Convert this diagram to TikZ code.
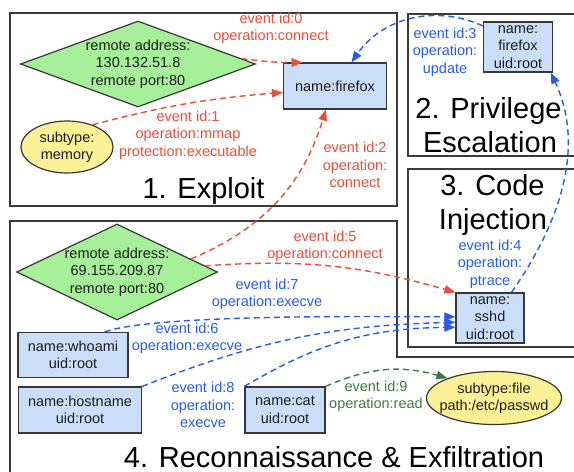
\documentclass[tikz,border=0pt]{standalone}
\usepackage{fontspec}
\setmainfont{Liberation Sans}
\usetikzlibrary{shapes.geometric,arrows.meta}
\definecolor{ink}{RGB}{30,30,30}
\definecolor{frame}{RGB}{60,60,60}
\definecolor{edge}{RGB}{55,55,55}
\definecolor{procfill}{RGB}{202,222,250}
\definecolor{sockfill}{RGB}{165,240,152}
\definecolor{filefill}{RGB}{252,240,150}
\definecolor{evred}{RGB}{232,78,56}
\definecolor{evblue}{RGB}{40,92,232}
\definecolor{evgreen}{RGB}{62,125,62}
\begin{document}
\begin{tikzpicture}[x=1pt,y=-1pt,
  every node/.style={font=\fontsize{14.5}{17.5}\selectfont, text=ink},
  proc/.style={rectangle, draw=edge, fill=procfill, line width=1.2pt, inner sep=0pt, align=center},
  sock/.style={diamond, draw=edge, fill=sockfill, line width=1.2pt, inner sep=0pt},
  fileobj/.style={ellipse, draw=edge, fill=filefill, line width=1.2pt, inner sep=0pt},
  inner/.style={align=center, inner sep=0pt},
  lbl/.style={align=center, inner sep=0pt},
  flow/.style={dash pattern=on 6pt off 4pt, line width=1.4pt, -{Triangle[length=11pt,width=8.5pt]}},
  redflow/.style={flow, draw=evred},
  blueflow/.style={flow, draw=evblue},
  greenflow/.style={flow, draw=evgreen},
  stagebox/.style={draw=frame, line width=1.4pt, fill=white},
  stagetitle/.style={font=\fontsize{29}{35}\selectfont, anchor=base, text=black, inner sep=0pt}
]
\useasboundingbox (0,0) rectangle (574,472);
\clip (0,0) rectangle (574,472);

% stage frames
\draw[stagebox] (10,13) rectangle (397,206);
\draw[stagebox] (408,14) rectangle (590,156);
\draw[stagebox] (10,221) -- (397,221) -- (397,357) -- (590,357) -- (590,490) -- (10,490) -- cycle;
\draw[stagebox] (408,169) rectangle (590,347);

% stage titles
\node[stagetitle] (t1) at (203.5,198) {1. Exploit};
\node[stagetitle] (t2a) at (488.5,118) {2. Privilege};
\node[stagetitle] (t2b) at (490,152) {Escalation};
\node[stagetitle] (t3a) at (492.5,195) {3. Code};
\node[stagetitle] (t3b) at (493,229) {Injection};
\node[stagetitle] (t4) at (334,467) {4. Reconnaissance \& Exfiltration};

% entities
\node[sock, minimum width=235pt, minimum height=86pt,
      label={[inner]center:remote address:\\130.132.51.8\\remote port:80}] (d1) at (138,64) {};
\node[fileobj, minimum width=92pt, minimum height=52pt,
      label={[inner]center:subtype:\\memory}] (mem) at (67,147) {};
\node[proc, minimum width=103pt, minimum height=46pt] (ff) at (335,86) {name:firefox};
\node[proc, minimum width=69pt, minimum height=50pt] (ffr) at (518,47) {name:\\firefox\\uid:root};
\node[proc, minimum width=68pt, minimum height=50pt] (sshd) at (490,318) {name:\\sshd\\uid:root};
\node[sock, minimum width=201pt, minimum height=96pt,
      label={[inner]center:remote address:\\69.155.209.87\\remote port:80}] (d2) at (117,272) {};
\node[proc, minimum width=110pt, minimum height=45pt] (who) at (73,355) {name:whoami\\uid:root};
\node[proc, minimum width=123pt, minimum height=46pt] (host) at (80,410) {name:hostname\\uid:root};
\node[proc, minimum width=80pt, minimum height=46pt] (cat) at (285,410) {name:cat\\uid:root};
\node[fileobj, minimum width=135pt, minimum height=53pt,
      label={[inner]center:subtype:file\\path:/etc/passwd}] (pw) at (494,398) {};

% event labels
\node[lbl, text=evred] (l0) at (271,28) {event id:0\\operation:connect};
\node[lbl, text=evred] (l1) at (188,135) {event id:1\\operation:mmap\\protection:executable};
\node[lbl, text=evred] (l2) at (355,165) {event id:2\\operation:\\connect};
\node[lbl, text=evblue] (l3) at (445,52) {event id:3\\operation:\\update};
\node[lbl, text=evblue] (l4) at (490,264) {event id:4\\operation:\\ptrace};
\node[lbl, text=evred] (l5) at (325,246) {event id:5\\operation:connect};
\node[lbl, text=evblue] (l7) at (267,294) {event id:7\\operation:execve};
\node[lbl, text=evblue] (l6) at (187,338) {event id:6\\operation:execve};
\node[lbl, text=evblue] (l8) at (203,405) {event id:8\\operation:\\execve};
\node[lbl, text=evgreen] (l9) at (376,396) {event id:9\\operation:read};

% events
\draw[redflow] (d1.3) to[bend right=4] (ff.144);
\draw[redflow] (mem.41) to[bend left=5] (ff.187);
\draw[redflow] (d2.10) to[bend right=25] (ff.249);
\draw[blueflow] (ffr.149) to[bend right=40] (ff.55);
\draw[blueflow] (sshd.50) to[out=55, in=-65, looseness=0.95] (ffr.322);
\draw[redflow] (d2.4) to[bend left=10] (sshd.north west);
\draw[blueflow] (who.36) to[out=20, in=180, looseness=0.4] (sshd.178);
\draw[blueflow] (host.north east) to[bend left=10] (sshd.187);
\draw[blueflow] (cat.north west) to[bend left=15] (sshd.195);
\draw[greenflow] (cat.north east) to[bend left=20] (pw.157);
\end{tikzpicture}
\end{document}
